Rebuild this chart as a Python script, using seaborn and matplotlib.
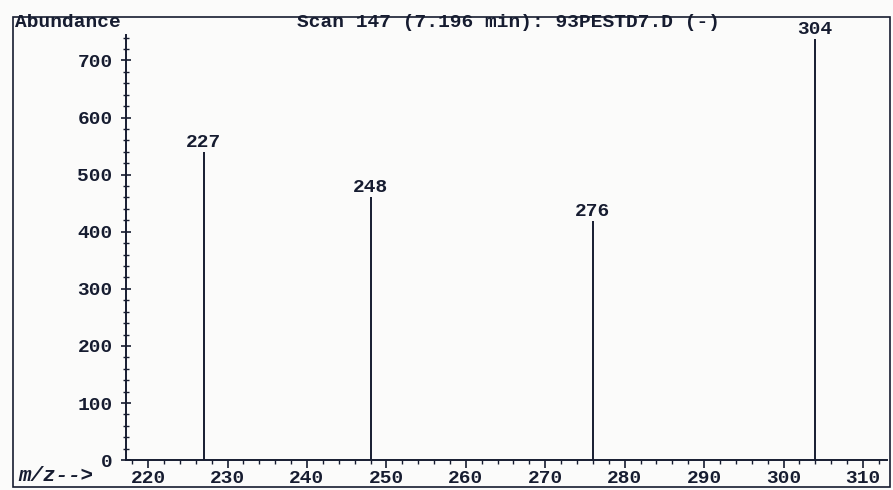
import matplotlib
matplotlib.use("Agg")
import matplotlib.pyplot as plt
import seaborn as sns
from matplotlib.patches import Rectangle
from matplotlib.ticker import MultipleLocator

# peak list
mz = [227, 248, 276, 304]
abundance = [540, 460, 418, 737]
title = "Scan 147 (7.196 min): 93PESTD7.D (-)"

sns.set_style("ticks")
plt.rcParams['font.family'] = ['Liberation Mono', 'DejaVu Sans Mono']
ink = "#161c30"

fig = plt.figure(figsize=(8.93, 4.9), dpi=100, facecolor="#fbfbfa")
ax = fig.add_axes([0.141, 0.061, 0.852, 0.868])
ax.set_facecolor("#fbfbfa")

ax.vlines(mz, 0, abundance, color=ink, linewidth=1.4)
for x, y in zip(mz, abundance):
    ax.text(x, y + 2, str(x), ha="center", va="bottom", fontsize=14,
            fontweight="bold", color=ink)

ax.set_xlim(217.2, 313.0)
ax.set_ylim(0, 745)
ax.xaxis.set_major_locator(MultipleLocator(10))
ax.xaxis.set_minor_locator(MultipleLocator(2))
ax.yaxis.set_major_locator(MultipleLocator(100))
ax.yaxis.set_minor_locator(MultipleLocator(20))

for s in ["top", "right"]:
    ax.spines[s].set_visible(False)
for s in ["left", "bottom"]:
    ax.spines[s].set_color(ink)
    ax.spines[s].set_linewidth(1.4)

ax.tick_params(axis="x", which="major", direction="out", length=6, width=1.2,
               colors=ink, labelsize=14, pad=1)
ax.tick_params(axis="x", which="minor", direction="out", length=3, width=1.0, colors=ink)
ax.tick_params(axis="y", which="major", direction="inout", length=7, width=1.2,
               colors=ink, labelsize=14, pad=6)
ax.tick_params(axis="y", which="minor", direction="inout", length=4, width=1.0, colors=ink)
for lab in ax.get_xticklabels() + ax.get_yticklabels():
    lab.set_fontweight("bold")

fig.text(0.017, 0.955, "Abundance", fontsize=14, fontweight="bold", color=ink, va="center")
fig.text(0.569, 0.955, title, fontsize=14, fontweight="bold", color=ink,
         va="center", ha="center")
fig.text(0.02, 0.03, "m/z-->", fontsize=15, fontweight="bold", style="italic",
         color=ink, va="center")

fig.patches.append(Rectangle((0.015, 0.006), 0.982, 0.96, transform=fig.transFigure,
                             fill=False, edgecolor=ink, linewidth=1.2))

fig.savefig("out.png", dpi=100, facecolor=fig.get_facecolor())
